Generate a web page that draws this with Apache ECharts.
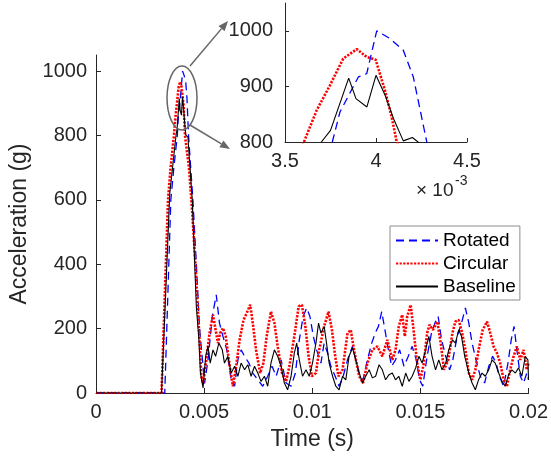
<!DOCTYPE html>
<html><head><meta charset="utf-8">
<script src="https://cdn.jsdelivr.net/npm/echarts@6/dist/echarts.min.js"></script>
<style>html,body{margin:0;padding:0;background:#fff}#c{width:551px;height:458px}</style>
</head><body><div id="c"></div>
<script>
// ---- data (time in s, acceleration in g) ----
const seriesNames = ['Rotated', 'Circular', 'Baseline'];

const rotatedT = [0, 0.00318, 0.00346, 0.0036, 0.00376, 0.003802, 0.003903, 0.003949, 0.004004, 0.004077,
  0.00415, 0.004205, 0.004279, 0.00448, 0.00464, 0.00479, 0.00502, 0.00518, 0.00538, 0.00556,
  0.00571, 0.00587, 0.00605, 0.00625, 0.00641, 0.00656, 0.00671, 0.00687, 0.00707, 0.00725,
  0.00748, 0.00771, 0.00794, 0.00814, 0.00833, 0.00856, 0.00879, 0.00902, 0.00922, 0.0094,
  0.00958, 0.00974, 0.00989, 0.01005, 0.0102, 0.0104, 0.01055, 0.01071, 0.01086, 0.01106,
  0.01124, 0.01143, 0.01163, 0.01186, 0.01201, 0.0122, 0.01235, 0.01255, 0.01275, 0.01291,
  0.01306, 0.01321, 0.01336, 0.01352, 0.01367, 0.01385, 0.01404, 0.01424, 0.01444, 0.01462,
  0.01481, 0.01496, 0.01511, 0.01531, 0.01551, 0.0157, 0.01582, 0.01598, 0.01617, 0.01635,
  0.0165, 0.0167, 0.0169, 0.01708, 0.01724, 0.01739, 0.01757, 0.01777, 0.01797, 0.01816,
  0.01834, 0.0185, 0.01865, 0.01885, 0.01905, 0.0192, 0.01933, 0.01946, 0.01962, 0.01977,
  0.01992, 0.02];
const rotatedV = [0, 0, 600, 700, 800, 854, 917, 923, 1000, 986,
  965, 917, 800, 600, 400, 200, 30, 103, 238, 305,
  217, 176, 134, 41, 21, 103, 134, 114, 93, 62,
  41, 21, 52, 83, 52, 103, 31, 21, 62, 165,
  238, 264, 238, 176, 134, 93, 155, 124, 83, 52,
  21, 52, 103, 145, 103, 52, 41, 103, 155, 186,
  207, 253, 196, 134, 83, 103, 134, 83, 114, 145,
  103, 41, 21, 114, 186, 222, 238, 165, 114, 72,
  103, 176, 217, 264, 217, 155, 103, 52, 31, 83,
  114, 93, 52, 21, 93, 165, 207, 134, 52, 31,
  62, 41];

const circularT = [0, 0.00303, 0.00333, 0.00345, 0.003604, 0.003674, 0.003747, 0.00382, 0.003894, 0.003949,
  0.003998, 0.004049, 0.004086, 0.004114, 0.0043, 0.00445, 0.0046, 0.00476, 0.00487, 0.00495,
  0.0051, 0.00525, 0.00541, 0.00553, 0.00564, 0.00574, 0.00587, 0.006, 0.00614, 0.00633,
  0.00648, 0.00664, 0.00682, 0.00697, 0.00713, 0.00725, 0.0074, 0.00759, 0.00774, 0.00789,
  0.00809, 0.00825, 0.0084, 0.0086, 0.00879, 0.00894, 0.00917, 0.00937, 0.00952, 0.00968,
  0.00983, 0.00998, 0.01017, 0.01032, 0.01055, 0.01075, 0.01091, 0.01106, 0.01121, 0.0114,
  0.01163, 0.01178, 0.01193, 0.01217, 0.01235, 0.01255, 0.01278, 0.01301, 0.01324, 0.01347,
  0.0137, 0.01385, 0.014, 0.01416, 0.01428, 0.01439, 0.01455, 0.0147, 0.01485, 0.015,
  0.01516, 0.01531, 0.01542, 0.01558, 0.01578, 0.01594, 0.01609, 0.01629, 0.01648, 0.01662,
  0.01677, 0.01693, 0.01708, 0.01724, 0.01739, 0.01754, 0.01769, 0.01788, 0.01808, 0.01823,
  0.01838, 0.01854, 0.01869, 0.01885, 0.019, 0.01915, 0.01931, 0.01946, 0.01962, 0.01977,
  0.01992, 0.02];
const circularV = [0, 0, 600, 700, 800, 857, 902, 950, 967, 953,
  948, 893, 845, 800, 700, 560, 400, 200, 52, 30,
  103, 186, 243, 196, 155, 186, 202, 176, 103, 21,
  83, 165, 227, 248, 274, 217, 134, 62, 93, 176,
  253, 217, 145, 62, 36, 83, 176, 269, 274, 207,
  114, 52, 62, 134, 207, 253, 196, 114, 52, 72,
  186, 196, 134, 52, 31, 93, 134, 145, 114, 165,
  103, 134, 207, 243, 176, 238, 274, 186, 93, 41,
  93, 186, 212, 196, 222, 155, 72, 103, 186, 222,
  227, 186, 134, 62, 41, 72, 134, 196, 222, 186,
  145, 124, 93, 41, 21, 72, 114, 145, 103, 134,
  72, 93];

const baselineT = [0, 0.00303, 0.00341, 0.0037, 0.00375, 0.00385, 0.00389, 0.00395, 0.004, 0.00405,
  0.0041, 0.00415, 0.0042, 0.00425, 0.00445, 0.00464, 0.00476, 0.00483, 0.00495, 0.00507,
  0.00518, 0.00528, 0.00541, 0.00553, 0.00568, 0.00584, 0.00594, 0.0061, 0.00625, 0.00641,
  0.00656, 0.00671, 0.00687, 0.00702, 0.00717, 0.00733, 0.00748, 0.00763, 0.00779, 0.00794,
  0.00809, 0.00825, 0.0084, 0.00856, 0.00871, 0.00886, 0.00902, 0.00917, 0.00928, 0.0094,
  0.00955, 0.00971, 0.00986, 0.01001, 0.01017, 0.01029, 0.0104, 0.01055, 0.01066, 0.01078,
  0.01094, 0.01109, 0.01124, 0.0114, 0.01155, 0.0117, 0.01186, 0.01201, 0.01217, 0.01232,
  0.01247, 0.01263, 0.01278, 0.01293, 0.01309, 0.01324, 0.01339, 0.01355, 0.0137, 0.01385,
  0.014, 0.01416, 0.01432, 0.01447, 0.01462, 0.01478, 0.01493, 0.01508, 0.01524, 0.01539,
  0.01554, 0.0157, 0.01585, 0.016, 0.01617, 0.01631, 0.01648, 0.01662, 0.01677, 0.0169,
  0.01705, 0.01724, 0.01739, 0.01754, 0.01769, 0.01785, 0.018, 0.01816, 0.01831, 0.01846,
  0.01862, 0.01877, 0.01892, 0.01908, 0.01923, 0.01939, 0.01954, 0.01969, 0.01985, 0.01997,
  0.02];
const baselineV = [0, 0, 619, 800, 821, 915, 878, 863, 920, 884,
  839, 802, 808, 795, 600, 268, 164, 62, 16, 114,
  145, 93, 134, 114, 155, 134, 93, 114, 62, 83,
  52, 93, 72, 88, 52, 83, 62, 36, 52, 21,
  93, 134, 114, 83, 31, 10, 52, 124, 155, 103,
  52, 72, 52, 93, 155, 217, 186, 207, 155, 93,
  52, 21, 10, 52, 41, 114, 140, 103, 62, 31,
  52, 72, 47, 52, 88, 72, 41, 57, 62, 41,
  52, 21, 62, 36, 52, 78, 114, 93, 134, 176,
  114, 72, 103, 72, 93, 134, 165, 155, 196, 176,
  114, 62, 31, 10, 41, 62, 52, 72, 103, 93,
  62, 36, 21, 57, 72, 62, 78, 52, 114, 103,
  41];

const xTicks = [0, 0.005, 0.01, 0.015, 0.02];
const yTicks = [0, 200, 400, 600, 800, 1000];
const insetXTicks = [0.0035, 0.004, 0.0045];
const insetYTicks = [800, 900, 1000];

// ---- chart ----
const FONT = 'Liberation Sans, Arial, Helvetica, sans-serif';
const TXT = '#262626';
const zip = (t, v) => t.map((x, i) => [x, v[i]]);
const dataSets = [zip(rotatedT, rotatedV), zip(circularT, circularV), zip(baselineT, baselineV)];
const styles = [
  { color: '#0000ff', width: 1.3, type: [8, 5] },
  { color: '#ff0000', width: 2.6, type: [2.2, 1.4] },
  { color: '#000000', width: 1.1, type: 'solid' }
];

function valueAxis(extra) {
  return Object.assign({
    type: 'value',
    splitLine: { show: false },
    axisLine: { show: true, onZero: false, lineStyle: { color: TXT, width: 1 } }
  }, extra);
}
function ticks(vals, len) {
  return { show: true, inside: true, length: len, lineStyle: { color: TXT }, customValues: vals };
}
function labels(vals, margin, fmt) {
  return { color: TXT, fontSize: 20, fontFamily: FONT, margin, customValues: vals, formatter: fmt };
}

const series = [];
[0, 1].forEach(g => {
  seriesNames.forEach((name, i) => {
    series.push({
      name, type: 'line', xAxisIndex: g, yAxisIndex: g,
      data: dataSets[i], symbol: 'none', showSymbol: false, clip: true,
      lineStyle: styles[i], itemStyle: { color: styles[i].color },
      z: 2 + i, animation: false
    });
  });
});

function arrow(x1, y1, x2, y2) {
  const dx = x2 - x1, dy = y2 - y1, L = Math.hypot(dx, dy);
  const ux = dx / L, uy = dy / L, px = -uy, py = ux;
  const hl = 10, hw = 4;
  const bx = x2 - ux * hl, by = y2 - uy * hl;
  return [
    { type: 'line', shape: { x1, y1, x2: bx, y2: by }, style: { stroke: '#666', lineWidth: 1.5 } },
    { type: 'polygon', shape: { points: [[x2, y2], [bx + px * hw, by + py * hw], [bx - px * hw, by - py * hw]] }, style: { fill: '#666' } }
  ];
}

const chart = echarts.init(document.getElementById('c'), null, { renderer: 'canvas' });
chart.setOption({
  animation: false,
  backgroundColor: '#fff',
  grid: [
    { left: 96, right: 21, top: 55, bottom: 65, containLabel: false },
    { left: 285, right: 84, top: 3, bottom: 316, containLabel: false }
  ],
  xAxis: [
    valueAxis({ gridIndex: 0, min: 0, max: 0.02,
      name: 'Time (s)', nameLocation: 'middle', nameGap: 35,
      nameTextStyle: { color: TXT, fontSize: 23, fontFamily: FONT },
      axisTick: ticks(xTicks, 5),
      axisLabel: labels(xTicks, 9, v => String(v)) }),
    valueAxis({ gridIndex: 1, min: 0.0035, max: 0.0045,
      axisTick: ticks(insetXTicks, 4),
      axisLabel: labels(insetXTicks, 9, v => String(Math.round(v * 1e4) / 10)) })
  ],
  yAxis: [
    valueAxis({ gridIndex: 0, min: 0, max: 1050,
      name: 'Acceleration (g)', nameLocation: 'middle', nameGap: 61,
      nameTextStyle: { color: TXT, fontSize: 23, fontFamily: FONT },
      axisTick: ticks(yTicks, 5),
      axisLabel: labels(yTicks, 9, v => String(v)) }),
    valueAxis({ gridIndex: 1, min: 800, max: 1050,
      axisTick: ticks(insetYTicks, 4),
      axisLabel: labels(insetYTicks, 12, v => String(v)) })
  ],
  legend: {
    orient: 'vertical', left: 390, top: 226,
    data: seriesNames, selectedMode: false,
    itemWidth: 42, itemHeight: 14, itemGap: 4,
    padding: [5, 4, 4, 5],
    itemStyle: { opacity: 0 },
    borderColor: '#8c8c8c', borderWidth: 1, backgroundColor: '#fff',
    textStyle: { color: '#000', fontSize: 19, fontFamily: FONT }
  },
  series,
  graphic: [
    { type: 'ellipse', shape: { cx: 182, cy: 98, rx: 15, ry: 32 }, style: { fill: 'none', stroke: '#666', lineWidth: 1.5 }, z: 10 },
    ...arrow(190, 66, 228, 21),
    ...arrow(190, 125, 230, 149),
    { type: 'text', x: 416, y: 191, style: { text: '× 10', fill: TXT, font: '19px ' + FONT, verticalAlign: 'middle' } },
    { type: 'text', x: 455, y: 181, style: { text: '-3', fill: TXT, font: '14px ' + FONT, verticalAlign: 'middle' } }
  ]
});
</script>
</body></html>
